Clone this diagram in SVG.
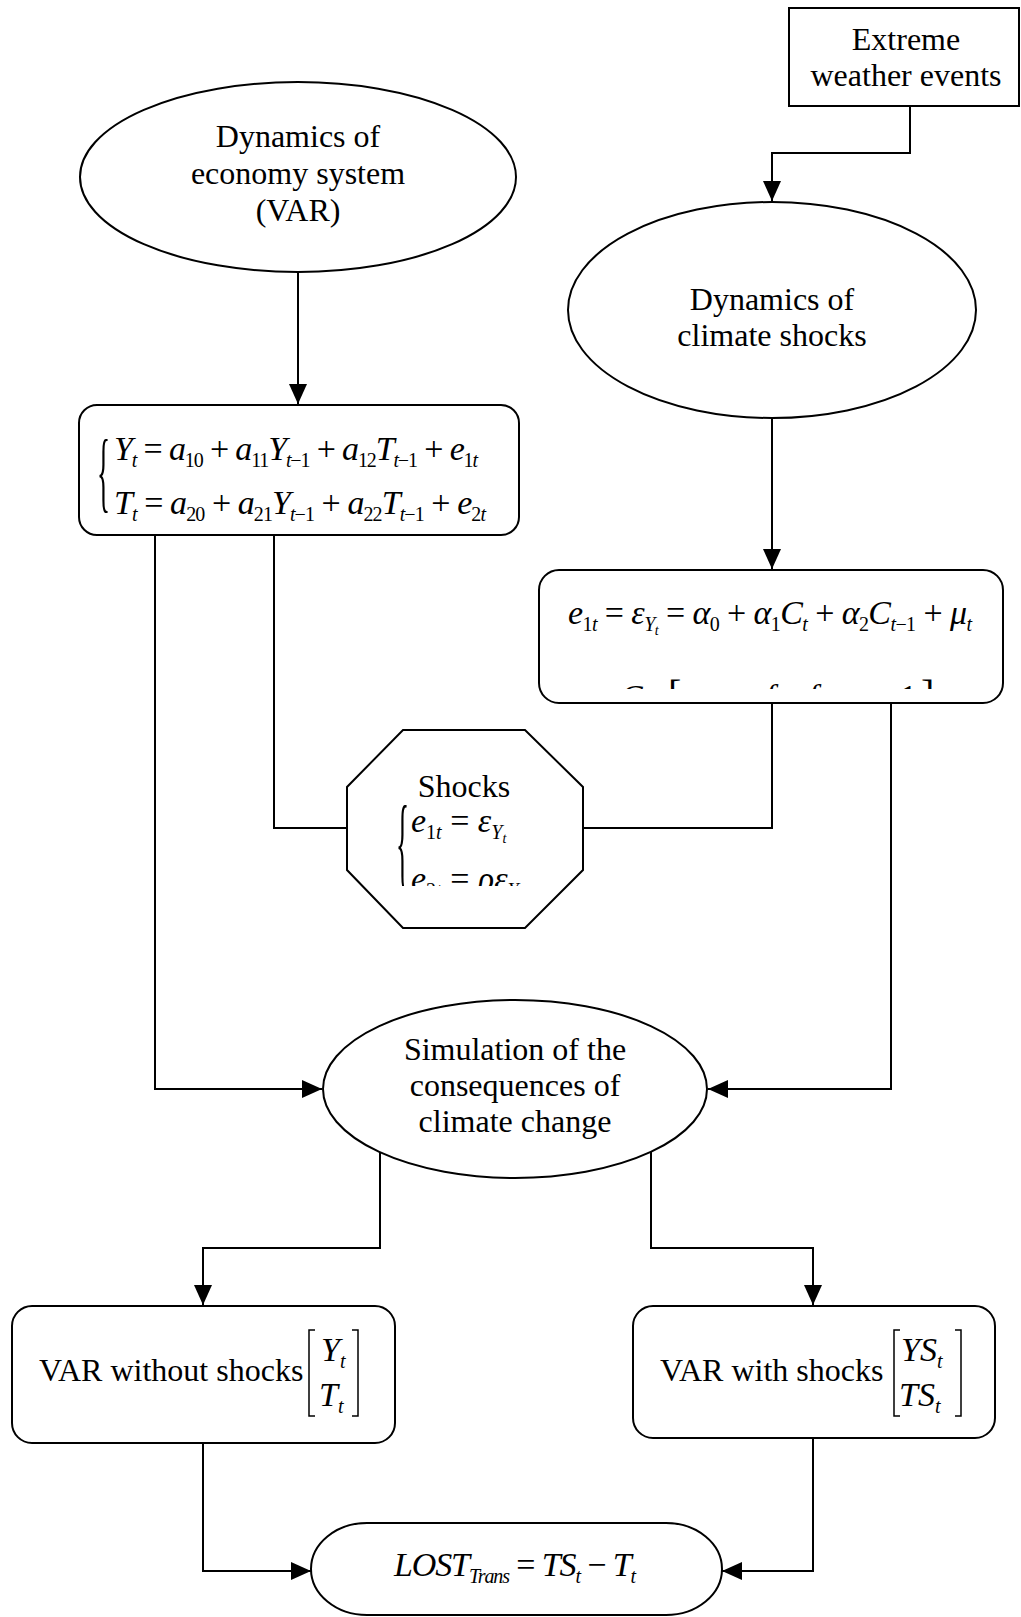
<svg xmlns="http://www.w3.org/2000/svg" width="1021" height="1617" viewBox="0 0 1021 1617">
<style>
.n{fill:#fff;stroke:#000;stroke-width:2}
.c{fill:none;stroke:#000;stroke-width:2}
.br{fill:none;stroke:#000;stroke-width:1.5}
.t{font-family:"Liberation Serif","Times New Roman",serif;font-size:32px;fill:#000}
.m{text-anchor:middle}
.eq{font-family:"Liberation Serif","Times New Roman",serif;font-size:34px;fill:#000}
.i{font-style:italic}
.sb{font-size:20px}
.ss{font-size:14px}
</style>
<defs>
<marker id="ah" markerWidth="20" markerHeight="18" refX="20" refY="9" orient="auto" markerUnits="userSpaceOnUse"><path d="M0,0 L20,9 L0,18 z" fill="#000"/></marker>
<clipPath id="clipE"><rect x="540" y="571" width="462" height="118"/></clipPath>
<clipPath id="clipS"><rect x="350" y="731" width="232" height="155"/></clipPath>
</defs>
<rect x="0" y="0" width="1021" height="1617" fill="#fff"/>

<g id="connectors">
<path class="c" d="M910,106 V153 H772 V201" marker-end="url(#ah)"/>
<path class="c" d="M298,272 V404" marker-end="url(#ah)"/>
<path class="c" d="M772,418 V569" marker-end="url(#ah)"/>
<path class="c" d="M155,535 V1089 H322" marker-end="url(#ah)"/>
<path class="c" d="M274,535 V828 H347"/>
<path class="c" d="M772,703 V828 H583"/>
<path class="c" d="M891,703 V1089 H708" marker-end="url(#ah)"/>
<path class="c" d="M380,1152 V1248 H203 V1305" marker-end="url(#ah)"/>
<path class="c" d="M651,1152 V1248 H813 V1305" marker-end="url(#ah)"/>
<path class="c" d="M203,1443 V1571 H311" marker-end="url(#ah)"/>
<path class="c" d="M813,1438 V1571 H722" marker-end="url(#ah)"/>
</g>

<g id="extreme">
<rect class="n" x="789" y="8" width="230" height="98"/>
<text class="t m" x="906" y="50">Extreme</text>
<text class="t m" x="906" y="86">weather events</text>
</g>

<g id="economy">
<ellipse class="n" cx="298" cy="177" rx="218" ry="95"/>
<text class="t m" x="298" y="147">Dynamics of</text>
<text class="t m" x="298" y="184">economy system</text>
<text class="t m" x="298" y="221">(VAR)</text>
</g>

<g id="climate">
<ellipse class="n" cx="772" cy="310" rx="204" ry="108"/>
<text class="t m" x="772" y="310">Dynamics of</text>
<text class="t m" x="772" y="346">climate shocks</text>
</g>

<g id="var-eq">
<rect class="n" x="79" y="405" width="440" height="130" rx="18"/>
<text class="eq" transform="translate(97,501) scale(0.8,2.64)">{</text>
<text class="eq" x="114" y="460" textLength="364" lengthAdjust="spacing"><tspan class="i">Y</tspan><tspan class="sb i" dy="7">t</tspan><tspan dy="-7"> = </tspan><tspan class="i">a</tspan><tspan class="sb" dy="7">10</tspan><tspan dy="-7"> + </tspan><tspan class="i">a</tspan><tspan class="sb" dy="7">11</tspan><tspan class="i" dy="-7">Y</tspan><tspan class="sb" dy="7"><tspan class="i">t</tspan>−1</tspan><tspan dy="-7"> + </tspan><tspan class="i">a</tspan><tspan class="sb" dy="7">12</tspan><tspan class="i" dy="-7">T</tspan><tspan class="sb" dy="7"><tspan class="i">t</tspan>−1</tspan><tspan dy="-7"> + </tspan><tspan class="i">e</tspan><tspan class="sb" dy="7">1<tspan class="i">t</tspan></tspan></text>
<text class="eq" x="114" y="514" textLength="372" lengthAdjust="spacing"><tspan class="i">T</tspan><tspan class="sb i" dy="7">t</tspan><tspan dy="-7"> = </tspan><tspan class="i">a</tspan><tspan class="sb" dy="7">20</tspan><tspan dy="-7"> + </tspan><tspan class="i">a</tspan><tspan class="sb" dy="7">21</tspan><tspan class="i" dy="-7">Y</tspan><tspan class="sb" dy="7"><tspan class="i">t</tspan>−1</tspan><tspan dy="-7"> + </tspan><tspan class="i">a</tspan><tspan class="sb" dy="7">22</tspan><tspan class="i" dy="-7">T</tspan><tspan class="sb" dy="7"><tspan class="i">t</tspan>−1</tspan><tspan dy="-7"> + </tspan><tspan class="i">e</tspan><tspan class="sb" dy="7">2<tspan class="i">t</tspan></tspan></text>
</g>

<g id="shock-eq">
<rect class="n" x="539" y="570" width="464" height="133" rx="20"/>
<text class="eq" x="568" y="624" textLength="404" lengthAdjust="spacing"><tspan class="i">e</tspan><tspan class="sb" dy="7">1<tspan class="i">t</tspan></tspan><tspan dy="-7"> = </tspan><tspan class="i">ε</tspan><tspan class="sb i" dy="7">Y</tspan><tspan class="ss i" dy="4">t</tspan><tspan dy="-11"> = </tspan><tspan class="i">α</tspan><tspan class="sb" dy="7">0</tspan><tspan dy="-7"> + </tspan><tspan class="i">α</tspan><tspan class="sb" dy="7">1</tspan><tspan class="i" dy="-7">C</tspan><tspan class="sb i" dy="7">t</tspan><tspan dy="-7"> + </tspan><tspan class="i">α</tspan><tspan class="sb" dy="7">2</tspan><tspan class="i" dy="-7">C</tspan><tspan class="sb" dy="7"><tspan class="i">t</tspan>−1</tspan><tspan dy="-7"> + </tspan><tspan class="i">μ</tspan><tspan class="sb i" dy="7">t</tspan></text>
<g clip-path="url(#clipE)">
<text class="eq" y="708"><tspan class="i" x="620">C</tspan><tspan x="668" font-size="40">[</tspan><tspan class="i" x="765">f</tspan><tspan class="i" x="808">f</tspan><tspan x="900">1</tspan><tspan x="921" font-size="40">]</tspan></text>
</g>
</g>

<g id="shocks">
<polygon class="n" points="403,730 525,730 583,787 583,870 525,928 403,928 347,870 347,787"/>
<text class="t m" x="464" y="797">Shocks</text>
<g clip-path="url(#clipS)">
<text class="eq" transform="translate(396,877) scale(0.8,3.08)">{</text>
<text class="eq" x="411" y="832"><tspan class="i">e</tspan><tspan class="sb" dy="7">1<tspan class="i">t</tspan></tspan><tspan dy="-7"> = </tspan><tspan class="i">ε</tspan><tspan class="sb i" dy="7">Y</tspan><tspan class="ss i" dy="4">t</tspan></text>
<text class="eq" x="411" y="890"><tspan class="i">e</tspan><tspan class="sb" dy="7">2<tspan class="i">t</tspan></tspan><tspan dy="-7"> = </tspan><tspan class="i">ρε</tspan><tspan class="sb i" dy="7">Y</tspan><tspan class="ss i" dy="4">t</tspan></text>
</g>
</g>

<g id="simulation">
<ellipse class="n" cx="515" cy="1089" rx="192" ry="89"/>
<text class="t m" x="515" y="1060">Simulation of the</text>
<text class="t m" x="515" y="1096">consequences of</text>
<text class="t m" x="515" y="1132">climate change</text>
</g>

<g id="var-without">
<rect class="n" x="12" y="1306" width="383" height="137" rx="20"/>
<text class="t" x="39" y="1381">VAR without shocks</text>
<polyline class="br" points="315,1330 309,1330 309,1416 315,1416"/>
<polyline class="br" points="352,1330 358,1330 358,1416 352,1416"/>
<text class="eq i" x="321" y="1361">Y<tspan class="sb" dy="7">t</tspan></text>
<text class="eq i" x="319" y="1406">T<tspan class="sb" dy="7">t</tspan></text>
</g>

<g id="var-with">
<rect class="n" x="633" y="1306" width="362" height="132" rx="20"/>
<text class="t" x="660" y="1381">VAR with shocks</text>
<polyline class="br" points="900,1330 894,1330 894,1416 900,1416"/>
<polyline class="br" points="955,1330 961,1330 961,1416 955,1416"/>
<text class="eq i" x="901" y="1361">YS<tspan class="sb" dy="7">t</tspan></text>
<text class="eq i" x="899" y="1406">TS<tspan class="sb" dy="7">t</tspan></text>
</g>

<g id="lost">
<rect class="n" x="311" y="1523" width="411" height="92" rx="56" ry="46"/>
<text class="eq" x="394" y="1576" textLength="242" lengthAdjust="spacing"><tspan class="i">LOST</tspan><tspan class="sb i" dy="7">Trans</tspan><tspan dy="-7"> = </tspan><tspan class="i">TS</tspan><tspan class="sb i" dy="7">t</tspan><tspan dy="-7"> − </tspan><tspan class="i">T</tspan><tspan class="sb i" dy="7">t</tspan></text>
</g>
</svg>
